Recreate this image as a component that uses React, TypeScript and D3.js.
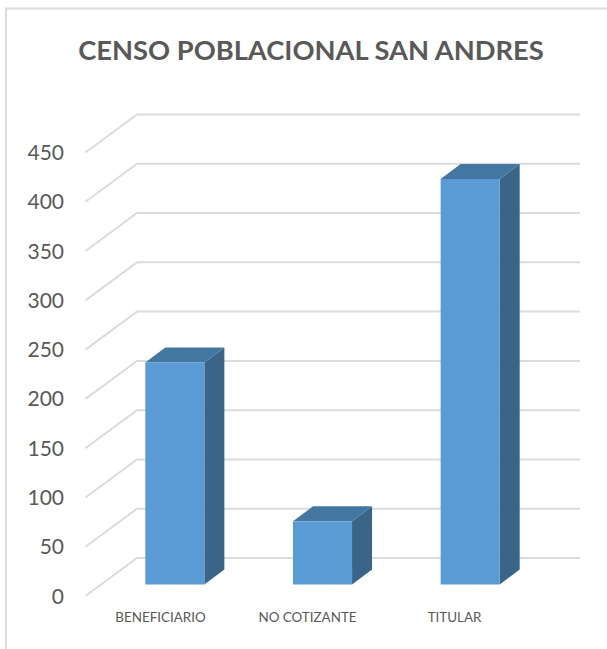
import React from "react";
import * as d3 from "d3";

const categories = ["BENEFICIARIO", "NO COTIZANTE", "TITULAR"];
const values = [225, 64, 411];
const ticks = [0, 50, 100, 150, 200, 250, 300, 350, 400, 450];
const title = "CENSO POBLACIONAL SAN ANDRES";

const font = "Lato, 'Open Sans', sans-serif";
const dx = 51;
const dy = 38;
const barDx = 20;
const barDy = 15;

export default function App() {
  // Front-plane value scale for the bars, and front-left edge of the floor for gridlines
  const yBar = d3.scaleLinear().domain([0, 450]).range([584.5, 140.5]);
  const yFront = d3.scaleLinear().domain([0, 450]).range([596, 152.5]);
  const x = d3.scaleBand().domain(categories).range([101, 544]).paddingInner(0.6).paddingOuter(0.3);
  const labelX: Record<string, number> = { BENEFICIARIO: 160.5, "NO COTIZANTE": 307.5, TITULAR: 454.5 };
  const bw = x.bandwidth();
  return (
    <svg
      width={607}
      height={649}
      style={{ position: "absolute", left: 0, top: 0, background: "#fff" }}
      fontFamily={font}
    >
      <path d="M6 649V8.5H607" fill="none" stroke="#dcdcdc" strokeWidth={2} />
      <text x={311} y={60} textAnchor="middle" fontSize={27.3} fontWeight={700} fill="#595959">
        {title}
      </text>
      {ticks.map((t) => {
        const y0 = yFront(t);
        return (
          <g key={t}>
            <path
              d={d3.line()([
                [85.5, y0],
                [85.5 + dx + 0.5, y0 - dy],
                [580, y0 - dy],
              ]) as string}
              fill="none"
              stroke="#dcdcdc"
              strokeWidth={2}
            />
            <text x={64} y={y0 + 7.5} textAnchor="end" fontSize={21} fill="#595959">
              {t}
            </text>
          </g>
        );
      })}
      {categories.map((c, i) => {
        const left = x(c) as number;
        const right = left + bw;
        const top = yBar(values[i]);
        const base = yBar(0);
        return (
          <g key={c}>
            <polygon
              points={`${right},${top} ${right + barDx},${top - barDy} ${right + barDx},${base - barDy} ${right},${base}`}
              fill="#3a6589"
            />
            <polygon
              points={`${left},${top} ${left + barDx},${top - barDy} ${right + barDx},${top - barDy} ${right},${top}`}
              fill="#4476a2"
            />
            <rect x={left} y={top} width={bw} height={base - top} fill="#5b9bd5" />
            <text x={labelX[c]} y={622} textAnchor="middle" fontSize={13.4} fill="#595959">
              {c}
            </text>
          </g>
        );
      })}
    </svg>
  );
}
